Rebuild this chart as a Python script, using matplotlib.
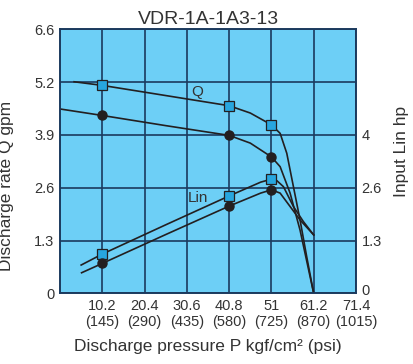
import matplotlib.pyplot as plt
import numpy as np
from matplotlib.scale import FuncScale
from matplotlib.transforms import ScaledTranslation

plt.rcParams['font.family'] = ['Liberation Sans', 'DejaVu Sans']

title = "VDR-1A-1A3-13"
x_ticks = [10.2, 20.4, 30.6, 40.8, 51, 61.2, 71.4]
psi_ticks = [145, 290, 435, 580, 725, 870, 1015]
q_ticks = [0, 1.3, 2.6, 3.9, 5.2, 6.6]
hp_ticks = [0, 1.3, 2.6, 4]

# discharge rate Q (gpm), square markers
q1_p = [3.4, 10.2, 25.5, 40.8, 45.9, 51, 53.1, 54.7, 56.3, 57.9, 59.5, 61.2]
q1_v = [5.21, 5.12, 4.87, 4.62, 4.44, 4.15, 3.94, 3.45, 2.63, 1.81, 0.91, 0.0]
q1_mark = [10.2, 40.8, 51]
q1_mark_v = [5.12, 4.62, 4.15]

# discharge rate Q (gpm), circle markers
q2_p = [0, 10.2, 25.5, 40.8, 45.9, 51, 53.1, 55.5, 57.9, 61.2]
q2_v = [4.54, 4.38, 4.13, 3.89, 3.70, 3.36, 3.12, 2.47, 1.56, 0.0]
q2_mark = [10.2, 40.8, 51]
q2_mark_v = [4.38, 3.89, 3.36]

# input Lin (hp), square markers
l1_p = [5.1, 10.2, 25.5, 40.8, 48.4, 51, 52.3, 53.9, 56.3, 58.7, 61.2]
l1_v = [0.70, 0.97, 1.69, 2.40, 2.75, 2.83, 2.79, 2.63, 2.14, 1.77, 1.44]
l1_mark = [10.2, 40.8, 51]
l1_mark_v = [0.97, 2.40, 2.83]

# input Lin (hp), circle markers
l2_p = [5.2, 10.2, 25.5, 40.8, 48.4, 51, 53.1, 55.5, 57.9, 61.2]
l2_v = [0.51, 0.74, 1.45, 2.15, 2.47, 2.55, 2.47, 2.14, 1.81, 1.44]
l2_mark = [10.2, 40.8, 51]
l2_mark_v = [0.74, 2.15, 2.55]

grid_col = "#1b3a5e"
line_col = "#231f20"
sq_col = "#27a6df"
txt_col = "#333333"


def q_fwd(v):
    return np.interp(v, [0, 5.2, 6.6], [0, 4, 5])


def q_inv(g):
    return np.interp(g, [0, 4, 5], [0, 5.2, 6.6])


def hp_fwd(v):
    return np.interp(v, [0, 2.6, 4, 6.8], [0, 2, 3, 5])


def hp_inv(g):
    return np.interp(g, [0, 2, 3, 5], [0, 2.6, 4, 6.8])


fig = plt.figure(figsize=(4.13, 3.64), dpi=100)
ax = fig.add_axes([0.1453, 0.1937, 0.7167, 0.7258])
ax.set_facecolor("#6dcff6")
ax.set_yscale(FuncScale(ax, (q_fwd, q_inv)))
ax.set_xlim(0, 71.4)
ax.set_ylim(0, 6.6)

ax2 = ax.twinx()
ax2.set_yscale(FuncScale(ax2, (hp_fwd, hp_inv)))
ax2.set_ylim(0, 6.8)

ax.set_xticks(x_ticks)
ax.set_xticklabels([f"{a:g}\n({b})" for a, b in zip(x_ticks, psi_ticks)])
ax.set_yticks(q_ticks)
ax.set_yticklabels([f"{v:g}" for v in q_ticks])
ax2.set_yticks(hp_ticks)
ax2.set_yticklabels([f"{v:g}" for v in hp_ticks])

ax.grid(True, color=grid_col, linewidth=1.2)
ax.set_axisbelow(True)
for a in (ax, ax2):
    for s in a.spines.values():
        s.set_color(grid_col)
        s.set_linewidth(1.2)
    a.tick_params(length=0, labelsize=10.5, colors=txt_col, pad=4)

# lift the right-hand "0" a little so it clears the 71.4 label
zero_lab = ax2.get_yticklabels()[0]
zero_lab.set_transform(zero_lab.get_transform() +
                       ScaledTranslation(0, 3 / 72, fig.dpi_scale_trans))

ax.plot(q1_p, q1_v, color=line_col, lw=1.2, zorder=3)
ax.plot(q2_p, q2_v, color=line_col, lw=1.2, zorder=3)
ax.plot(q1_mark, q1_mark_v, "s", ms=6.5, mfc=sq_col, mec=line_col, mew=0.9, zorder=4)
ax.plot(q2_mark, q2_mark_v, "o", ms=6.5, mfc=line_col, mec=line_col, zorder=4)

ax2.plot(l1_p, l1_v, color=line_col, lw=1.2, zorder=3)
ax2.plot(l2_p, l2_v, color=line_col, lw=1.2, zorder=3)
ax2.plot(l1_mark, l1_mark_v, "s", ms=6.5, mfc=sq_col, mec=line_col, mew=0.9, zorder=4)
ax2.plot(l2_mark, l2_mark_v, "o", ms=6.5, mfc=line_col, mec=line_col, zorder=4)

ax.text(33.0, 4.95, "Q", fontsize=11, color=txt_col, ha="center", va="center")
ax.text(33.3, 2.35, "Lin", fontsize=11, color=txt_col, ha="center", va="center")

ax.set_title(title, fontsize=14, color=txt_col, pad=4)
ax.set_ylabel("Discharge rate Q gpm", fontsize=12.5, color=txt_col)
ax.yaxis.set_label_coords(-0.155, 0.407)
ax.set_xlabel("Discharge pressure P kgf/cm² (psi)", fontsize=12.5, color=txt_col, labelpad=7)
ax2.set_ylabel("Input Lin hp", fontsize=12.5, color=txt_col)
ax2.yaxis.set_label_coords(1.13, 0.536)

fig.savefig("out.png", dpi=100)
